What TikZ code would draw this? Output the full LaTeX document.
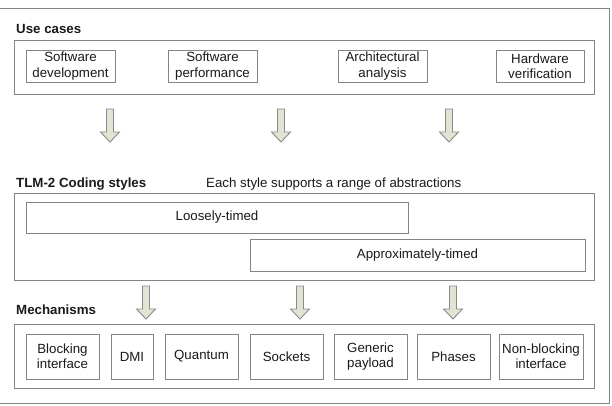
\documentclass[tikz,border=0pt]{standalone}
\usepackage{fontspec}
\setmainfont{Liberation Sans}
\definecolor{linegray}{HTML}{858585}
\definecolor{textc}{HTML}{1A1A1A}
\definecolor{arrowfill}{HTML}{E1E4D3}
\definecolor{arrowline}{HTML}{8A8A8A}
\begin{document}
\begin{tikzpicture}[x=1pt,y=-1pt,
  box/.style={draw=linegray, line width=1pt, inner sep=0pt, align=center, text=textc,
    font=\fontsize{13.3}{15.3}\selectfont},
  group/.style={draw=linegray, line width=1pt, inner sep=0pt},
  title/.style={inner sep=0pt, anchor=base west, text=textc, font=\fontsize{13.3}{15.3}\selectfont\bfseries},
  note/.style={inner sep=0pt, anchor=base west, text=textc, font=\fontsize{13.3}{15.3}\selectfont},
  outer/.style={draw=linegray, line width=1pt},
  blockarrow/.pic={\draw[fill=arrowfill, draw=arrowline, line width=0.9pt, line join=miter]
    (-3.5,0) -- (-3.5,23) -- (-9.5,23) -- (0,33) -- (9.5,23) -- (3.5,23) -- (3.5,0) -- cycle;}
]
\useasboundingbox (0,0) rectangle (612,405);
\fill[white] (0,0) rectangle (612,405);
% outer frame
\draw[outer] (0,8) -- (609,8) -- (609,403) -- (0,403);

% Use cases
\node[title] (uctitle) at (16,33) {Use cases};
\node[group, minimum width=580, minimum height=54] (ucbox) at (304,67) {};
\node[box, minimum width=89, minimum height=32] (swdev) at (70.5,66) {Software\\development};
\node[box, minimum width=89, minimum height=32] (swperf) at (212.5,66) {Software\\performance};
\node[box, minimum width=89, minimum height=32] (arch) at (382.5,66) {Architectural\\analysis};
\node[box, minimum width=88, minimum height=32] (hwver) at (540,66) {Hardware\\verification};

% arrows row 1
\pic at (110,109) {blockarrow};
\pic at (281,109) {blockarrow};
\pic at (449,109) {blockarrow};

% Coding styles
\node[title] (cstitle) at (16,187) {TLM-2 Coding styles};
\node[note] (csnote) at (206,187) {Each style supports a range of abstractions};
\node[group, minimum width=580, minimum height=87] (csbox) at (304,236.5) {};
\node[box, minimum width=382, minimum height=31] (lt) at (217,217.5) {Loosely-timed};
\node[box, minimum width=335, minimum height=32] (at) at (417.5,255) {Approximately-timed};

% arrows row 2
\pic at (146,286) {blockarrow};
\pic at (300,286) {blockarrow};
\pic at (453,286) {blockarrow};

% Mechanisms
\node[title] (mtitle) at (16,314) {Mechanisms};
\node[group, minimum width=580, minimum height=64] (mbox) at (304,356) {};
\node[box, minimum width=73, minimum height=45] (blocking) at (62.5,356.5) {Blocking\\interface};
\node[box, minimum width=42, minimum height=45] (dmi) at (132,356.5) {DMI};
\node[box, minimum width=73, minimum height=45] (quantum) at (201.5,356.5) {Quantum};
\node[box, minimum width=73, minimum height=45] (sockets) at (286.5,356.5) {Sockets};
\node[box, minimum width=73, minimum height=45] (generic) at (370.5,356.5) {Generic\\payload};
\node[box, minimum width=73, minimum height=45] (phases) at (453.5,356.5) {Phases};
\node[box, minimum width=84, minimum height=45] (nonblocking) at (541,356.5) {Non-blocking\\interface};
\end{tikzpicture}
\end{document}
